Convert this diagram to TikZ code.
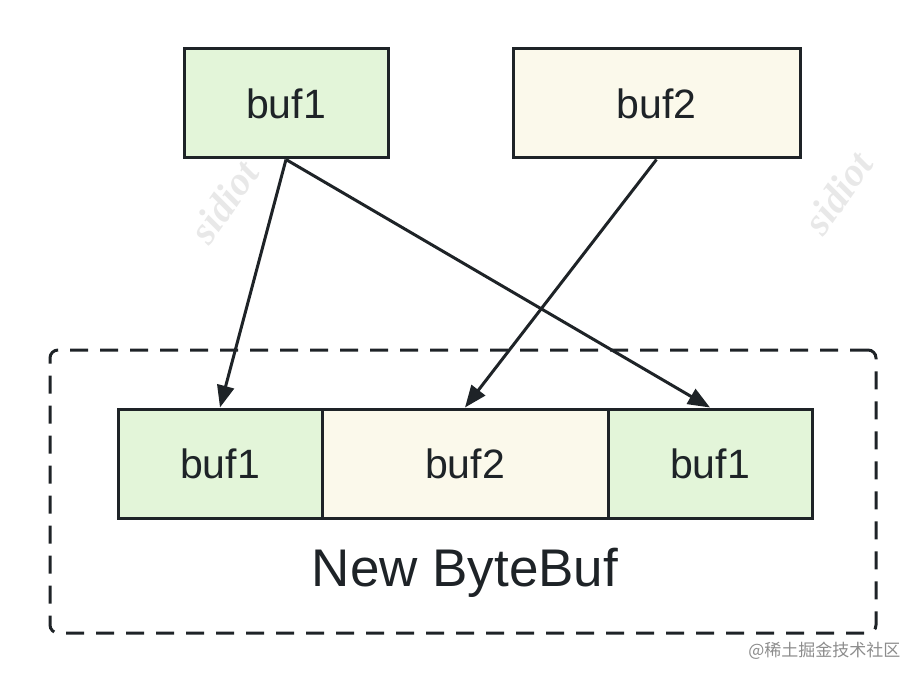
\documentclass[tikz,border=0pt]{standalone}
\usepackage{fontspec}
\setmainfont{Liberation Sans}
\newfontfamily\cjkfont{Noto Sans CJK SC}
\newfontfamily\markfont{Liberation Serif}
\usetikzlibrary{arrows.meta}
\definecolor{inkc}{HTML}{1E2327}
\definecolor{greenc}{HTML}{E3F5D9}
\definecolor{creamc}{HTML}{FBF9EB}
\definecolor{markc}{HTML}{E8E8E8}

\begin{document}
\begin{tikzpicture}[x=1pt,y=-1pt,
  buf/.style={draw=inkc,line width=3pt,inner sep=0pt,minimum height=109pt,
    font=\fontsize{41}{46}\selectfont,text=inkc},
  grn/.style={buf,fill=greenc},
  crm/.style={buf,fill=creamc},
  wmark/.style={text=markc,font=\markfont\bfseries\itshape\fontsize{40}{44}\selectfont,rotate=55}]

\useasboundingbox (0,0) rectangle (924,682);

% watermarks
\node[wmark] (w1) at (224,202) {sidiot};
\node[wmark] (w2) at (838,193) {sidiot};
\node[text=black!45,font=\cjkfont\fontsize{17}{20}\selectfont,anchor=east] (site) at (904,651) {@稀土掘金技术社区};

% frame
\node[draw=inkc,line width=3pt,dash pattern=on 18pt off 12pt,rounded corners=8pt,
  minimum width=826pt,minimum height=283pt] (frame) at (463,491.5) {};
\node[text=inkc,font=\fontsize{53}{58}\selectfont] (name) at (465,573) {New ByteBuf};

% sources
\node[grn,minimum width=204pt] (src1) at (286,103.5) {buf1};
\node[crm,minimum width=287pt] (src2) at (656.5,103.5) {buf2};

% merged buffer
\node[grn,minimum width=204pt] (dst1) at (220,463.5) {buf1};
\node[crm,minimum width=286pt] (dst2) at (465,463.5) {buf2};
\node[grn,minimum width=204pt] (dst3) at (710,463.5) {buf1};

\path[color=inkc,line width=3pt,-{Triangle[length=22pt,width=17pt]}]
  (src1.south) edge (dst1.north)
  (src1.south) edge (dst3.north)
  (src2.south) edge (dst2.north);

\end{tikzpicture}
\end{document}
